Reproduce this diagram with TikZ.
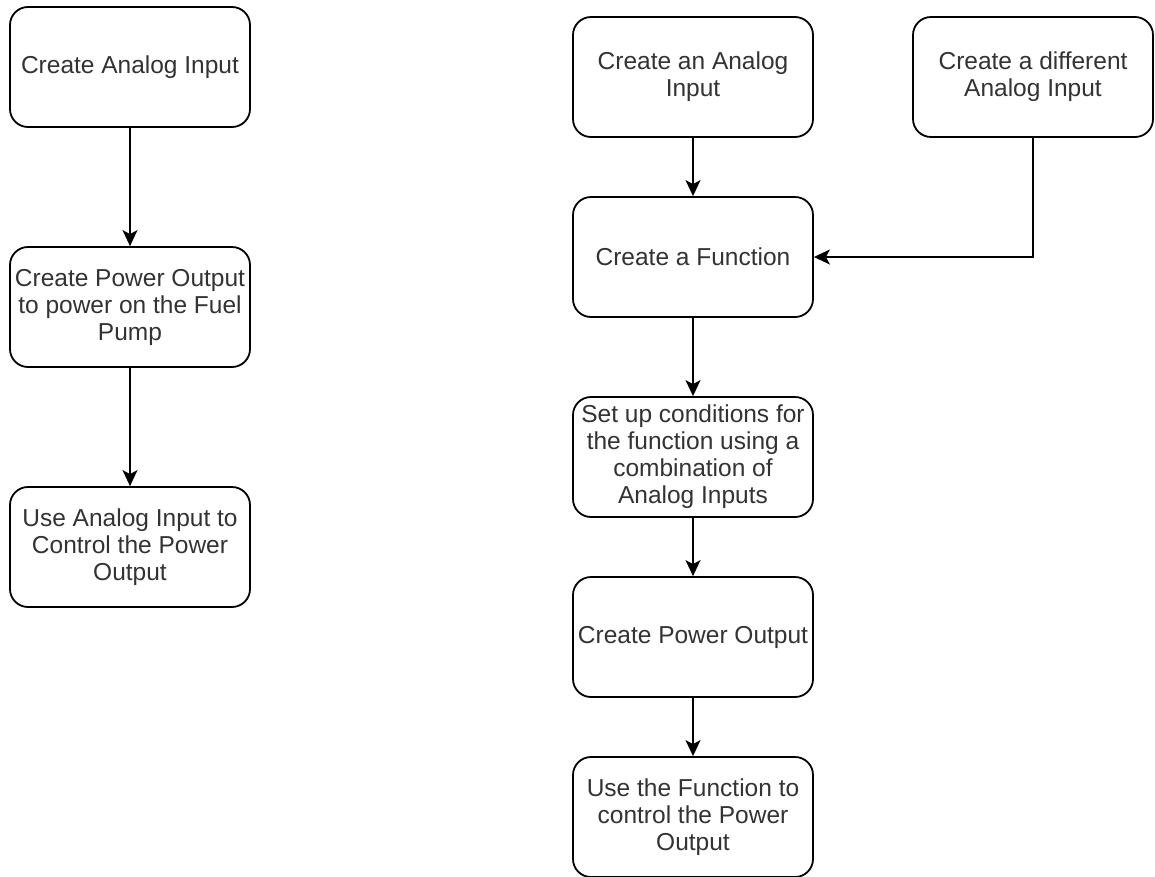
\documentclass[tikz,border=0pt]{standalone}
\usepackage{fontspec}
\setmainfont{Liberation Sans}
\usetikzlibrary{arrows.meta}
\definecolor{txtgray}{HTML}{333333}
\tikzset{
  stepbox/.style={draw=black, line width=1.8pt, rounded corners=18pt, fill=white,
    minimum width=240pt, minimum height=120pt, inner sep=2pt, align=center,
    text=txtgray, font=\fontsize{24.5}{27}\selectfont},
  flow/.style={draw=black, line width=1.8pt,
    -{Stealth[length=16pt,width=15pt,inset=4pt]}}
}
\begin{document}
\begin{tikzpicture}[x=1pt,y=-1pt]
\useasboundingbox (0,0) rectangle (1155,876);
% left column
\node[stepbox] (l1) at (130,67) {Create Analog Input};
\node[stepbox] (l2) at (130,307) {Create Power Output\\to power on the Fuel\\Pump};
\node[stepbox] (l3) at (130,547) {Use Analog Input to\\Control the Power\\Output};
% right column
\node[stepbox] (r1) at (693,77) {Create an Analog\\Input};
\node[stepbox] (r5) at (1033,77) {Create a different\\Analog Input};
\node[stepbox] (r2) at (693,257) {Create a Function};
\node[stepbox] (r3) at (693,457) {Set up conditions for\\the function using a\\combination of\\Analog Inputs};
\node[stepbox] (r4) at (693,637) {Create Power Output};
\node[stepbox] (r6) at (693,817) {Use the Function to\\control the Power\\Output};
% connectors
\draw[flow] (l1) -- (l2);
\draw[flow] (l2) -- (l3);
\draw[flow] (r1) -- (r2);
\draw[flow] (r5.south) |- (r2.east);
\draw[flow] (r2) -- (r3);
\draw[flow] (r3) -- (r4);
\draw[flow] (r4) -- (r6);
\end{tikzpicture}
\end{document}
